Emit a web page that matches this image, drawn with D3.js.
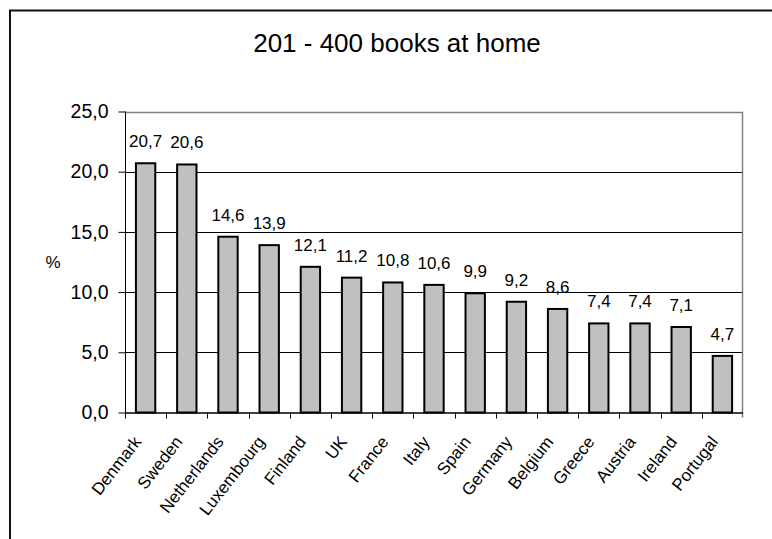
<!DOCTYPE html>
<html>
<head>
<meta charset="utf-8">
<script src="https://cdn.jsdelivr.net/npm/d3@7"></script>
<style>
  html, body { margin: 0; padding: 0; background: #fff; }
  svg { display: block; font-family: "Liberation Sans", Arial, sans-serif; }
</style>
</head>
<body>
<svg id="chart" width="772" height="539"></svg>
<script>
// Share of households with 201-400 books, by country (%)
const countries = ["Denmark", "Sweden", "Netherlands", "Luxembourg", "Finland", "UK", "France",
                   "Italy", "Spain", "Germany", "Belgium", "Greece", "Austria", "Ireland", "Portugal"];
const shares = [20.7, 20.6, 14.6, 13.9, 12.1, 11.2, 10.8, 10.6, 9.9, 9.2, 8.6, 7.4, 7.4, 7.1, 4.7];
const yTicks = [0, 5, 10, 15, 20, 25];

const svg = d3.select("#chart");
const plotL = 125, plotR = 743, plotT = 111.5, plotB = 412.5;
const fmt = v => d3.format(".1f")(v).replace(".", ",");

const x = d3.scaleBand().domain(countries).range([plotL, plotR]).paddingInner(0.53).paddingOuter(0.265);
const xCat = d3.scaleBand().domain(countries).range([plotL, plotR]);
const y = d3.scaleLinear().domain([0, 25]).range([plotB, plotT]);

// outer chart frame (left and top edges)
svg.append("path")
  .attr("d", "M10,539 L10,10.5 L772,10.5")
  .attr("fill", "none").attr("stroke", "#111").attr("stroke-width", 2);

// title
svg.append("text")
  .attr("x", 397).attr("y", 52)
  .attr("text-anchor", "middle")
  .attr("font-size", 26)
  .text("201 - 400 books at home");

// horizontal gridlines
svg.append("g").selectAll("line")
  .data(yTicks.filter(t => t > 0 && t < 25))
  .join("line")
  .attr("x1", plotL).attr("x2", plotR)
  .attr("y1", d => Math.round(y(d)) + 0.5).attr("y2", d => Math.round(y(d)) + 0.5)
  .attr("stroke", "#000").attr("stroke-width", 1);

// plot area frame: top and right in grey
svg.append("path")
  .attr("d", `M${plotL},${Math.round(plotT) + 0.5} L${plotR - 0.5},${Math.round(plotT) + 0.5} L${plotR - 0.5},${plotB + 5}`)
  .attr("fill", "none").attr("stroke", "#808080").attr("stroke-width", 1.5);

// bars
svg.append("g").selectAll("rect")
  .data(countries)
  .join("rect")
  .attr("x", d => x(d))
  .attr("width", x.bandwidth())
  .attr("y", (d, i) => y(shares[i]))
  .attr("height", (d, i) => y(0) - y(shares[i]))
  .attr("fill", "#c0c0c0")
  .attr("stroke", "#000")
  .attr("stroke-width", 2);

// value labels
svg.append("g").selectAll("text")
  .data(countries)
  .join("text")
  .attr("x", d => x(d) + x.bandwidth() / 2)
  .attr("y", (d, i) => y(shares[i]) - 16)
  .attr("text-anchor", "middle")
  .attr("font-size", 17)
  .text((d, i) => fmt(shares[i]));

// y axis
const yAxis = d3.axisLeft(y).tickValues(yTicks).tickSize(7).tickPadding(10).tickFormat(fmt);
const gy = svg.append("g").attr("transform", `translate(${plotL + 0.5},0)`).call(yAxis);
gy.select(".domain").attr("d", `M0,${plotT} V${plotB + 5}`).attr("stroke", "#000");
gy.selectAll(".tick line").attr("stroke", "#000");
gy.selectAll(".tick text").attr("font-size", 19.5).attr("font-family", "Liberation Sans, Arial, sans-serif").attr("fill", "#000");

// x axis line with ticks at category boundaries
svg.append("line")
  .attr("x1", plotL).attr("x2", plotR)
  .attr("y1", plotB + 0.5).attr("y2", plotB + 0.5)
  .attr("stroke", "#000").attr("stroke-width", 1.5);
svg.append("g").selectAll("line")
  .data(countries)
  .join("line")
  .attr("x1", d => Math.round(xCat(d)) + 0.5).attr("x2", d => Math.round(xCat(d)) + 0.5)
  .attr("y1", plotB).attr("y2", plotB + 6)
  .attr("stroke", "#000");

// rotated category labels
svg.append("g").selectAll("text")
  .data(countries)
  .join("text")
  .attr("transform", d => `translate(${xCat(d) + xCat.bandwidth() / 2 - 3.5},442) rotate(-52)`)
  .attr("text-anchor", "end")
  .attr("font-size", 17)
  .text(d => d);

// y axis title
svg.append("text")
  .attr("x", 53).attr("y", 268)
  .attr("text-anchor", "middle")
  .attr("font-size", 17)
  .text("%");
</script>
</body>
</html>
